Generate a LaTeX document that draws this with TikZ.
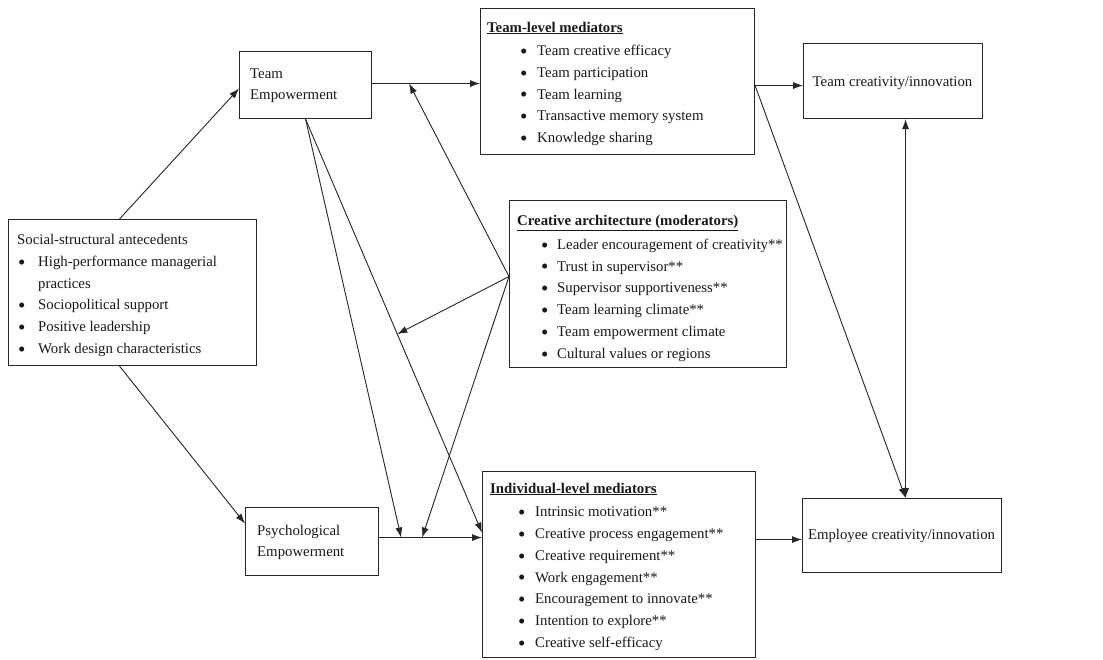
\documentclass[tikz,border=0pt]{standalone}
\usepackage{fontspec}
\setmainfont{Liberation Serif}
\usetikzlibrary{arrows.meta,calc}
\newcommand{\bl}[2]{\makebox[#1][l]{\raisebox{-2.8pt}{\fontsize{21}{21}\selectfont\textbullet}}#2}
\begin{document}
\begin{tikzpicture}[x=1pt,y=-1pt,
  box/.style={draw=black!85, line width=1.1pt, anchor=north west, inner sep=0pt},
  txt/.style={anchor=base west, inner sep=0pt, text=black!90, font=\fontsize{14.8}{21.8}\selectfont},
  arr/.style={-{Latex[length=10pt,width=7pt]}, line width=0.9pt, draw=black!85},
  arrtwo/.style={{Latex[length=10pt,width=7pt]}-{Latex[length=10pt,width=7pt]}, line width=0.9pt, draw=black!85}]
\useasboundingbox (0,0) rectangle (1103,659);
\fill[white] (0,0) rectangle (1103,659);

% boxes
\node[box, minimum width=248pt, minimum height=146pt] (soc) at (8,219) {};
\node[box, minimum width=132pt, minimum height=67pt] (te) at (239,51) {};
\node[box, minimum width=133pt, minimum height=68pt] (pe) at (245,507) {};
\node[box, minimum width=274pt, minimum height=146pt] (tm) at (480,8) {};
\node[box, minimum width=179pt, minimum height=75pt] (tc) at (803,43) {};
\node[box, minimum width=277pt, minimum height=167pt] (ca) at (509,200) {};
\node[box, minimum width=273pt, minimum height=186pt] (im) at (482,471) {};
\node[box, minimum width=199pt, minimum height=74pt] (ec) at (802,498) {};

% texts
\node[txt] (soct) at (17,244.5) {\begin{tabular}[t]{@{}l@{}}Social-structural antecedents\\
\hspace{1pt}\bl{20pt}{High-performance managerial}\\
\hspace{21pt}practices\\
\hspace{1pt}\bl{20pt}{Sociopolitical support}\\
\hspace{1pt}\bl{20pt}{Positive leadership}\\
\hspace{1pt}\bl{20pt}{Work design characteristics}\end{tabular}};

\node[txt] (tet) at (250,78) {\begin{tabular}[t]{@{}l@{}}Team\\[-0.3pt] Empowerment\end{tabular}};
\node[txt] (pet) at (257,535.7) {\begin{tabular}[t]{@{}l@{}}Psychological\\[-0.8pt] Empowerment\end{tabular}};

\node[txt] (tmt) at (487,32) {\begin{tabular}[t]{@{}l@{}}\underline{\textbf{Team-level mediators}}\\[1.7pt]
\hspace{33pt}\bl{17pt}{Team creative efficacy}\\
\hspace{33pt}\bl{17pt}{Team participation}\\
\hspace{33pt}\bl{17pt}{Team learning}\\
\hspace{33pt}\bl{17pt}{Transactive memory system}\\
\hspace{33pt}\bl{17pt}{Knowledge sharing}\end{tabular}};

\node[txt, anchor=base] (tct) at (892.5,86) {Team creativity/innovation};

\node[txt] (cat) at (517,225.7) {\begin{tabular}[t]{@{}l@{}}\underline{\textbf{Creative architecture (moderators)}}\\[1.8pt]
\hspace{24pt}\bl{16pt}{Leader encouragement of creativity**}\\
\hspace{24pt}\bl{16pt}{Trust in supervisor**}\\
\hspace{24pt}\bl{16pt}{Supervisor supportiveness**}\\
\hspace{24pt}\bl{16pt}{Team learning climate**}\\
\hspace{24pt}\bl{16pt}{Team empowerment climate}\\
\hspace{24pt}\bl{16pt}{Cultural values or regions}\end{tabular}};

\node[txt] (imt) at (490,493) {\begin{tabular}[t]{@{}l@{}}\underline{\textbf{Individual-level mediators}}\\[1.9pt]
\hspace{28pt}\bl{17pt}{Intrinsic motivation**}\\
\hspace{28pt}\bl{17pt}{Creative process engagement**}\\
\hspace{28pt}\bl{17pt}{Creative requirement**}\\
\hspace{28pt}\bl{17pt}{Work engagement**}\\
\hspace{28pt}\bl{17pt}{Encouragement to innovate**}\\
\hspace{28pt}\bl{17pt}{Intention to explore**}\\
\hspace{28pt}\bl{17pt}{Creative self-efficacy}\end{tabular}};

\node[txt, anchor=base] (ect) at (901.5,539.3) {Employee creativity/innovation};

% connector points
\coordinate (a1) at ([xshift=-13pt]soc.north);
\coordinate (a2) at ([xshift=-13pt]soc.south);
\coordinate (teR) at ([yshift=1.5pt]te.east);
\coordinate (m1) at ([xshift=37pt]teR);
\coordinate (cw) at ([yshift=7.5pt]ca.west);
\coordinate (imL) at ([yshift=32pt]im.west);
\coordinate (m2) at ($(te.south)!0.52!(imL)$);
\coordinate (peR) at ([yshift=4pt]pe.east);
\coordinate (p1) at ([xshift=22pt]peR);
\coordinate (p2) at ([xshift=43pt]peR);
\coordinate (tmR) at ([yshift=-4pt]tm.east);
\coordinate (ecT) at ([xshift=3.5pt]ec.north);
\coordinate (ecL) at ([yshift=-4pt]ec.west);

% connectors
\draw[arr] (a1) -- ([yshift=-3.5pt]te.west);
\draw[arr] (a2) -- ([yshift=18pt]pe.west);
\draw[arr] (teR) -- (teR -| tm.west);
\draw[arr] (cw) -- (m1);
\draw[arr] (te.south) -- (imL);
\draw[arr] (cw) -- (m2);
\draw[arr] (peR) -- (peR -| im.west);
\draw[arr] (te.south) -- (p1);
\draw[arr] (cw) -- (p2);
\draw[arr] (tmR) -- (tmR -| tc.west);
\draw[arr] (tmR) -- (ecT);
\draw[arrtwo] (ecT |- tc.south) -- (ecT);
\draw[arr] (ecL -| im.east) -- (ecL);
\end{tikzpicture}
\end{document}
